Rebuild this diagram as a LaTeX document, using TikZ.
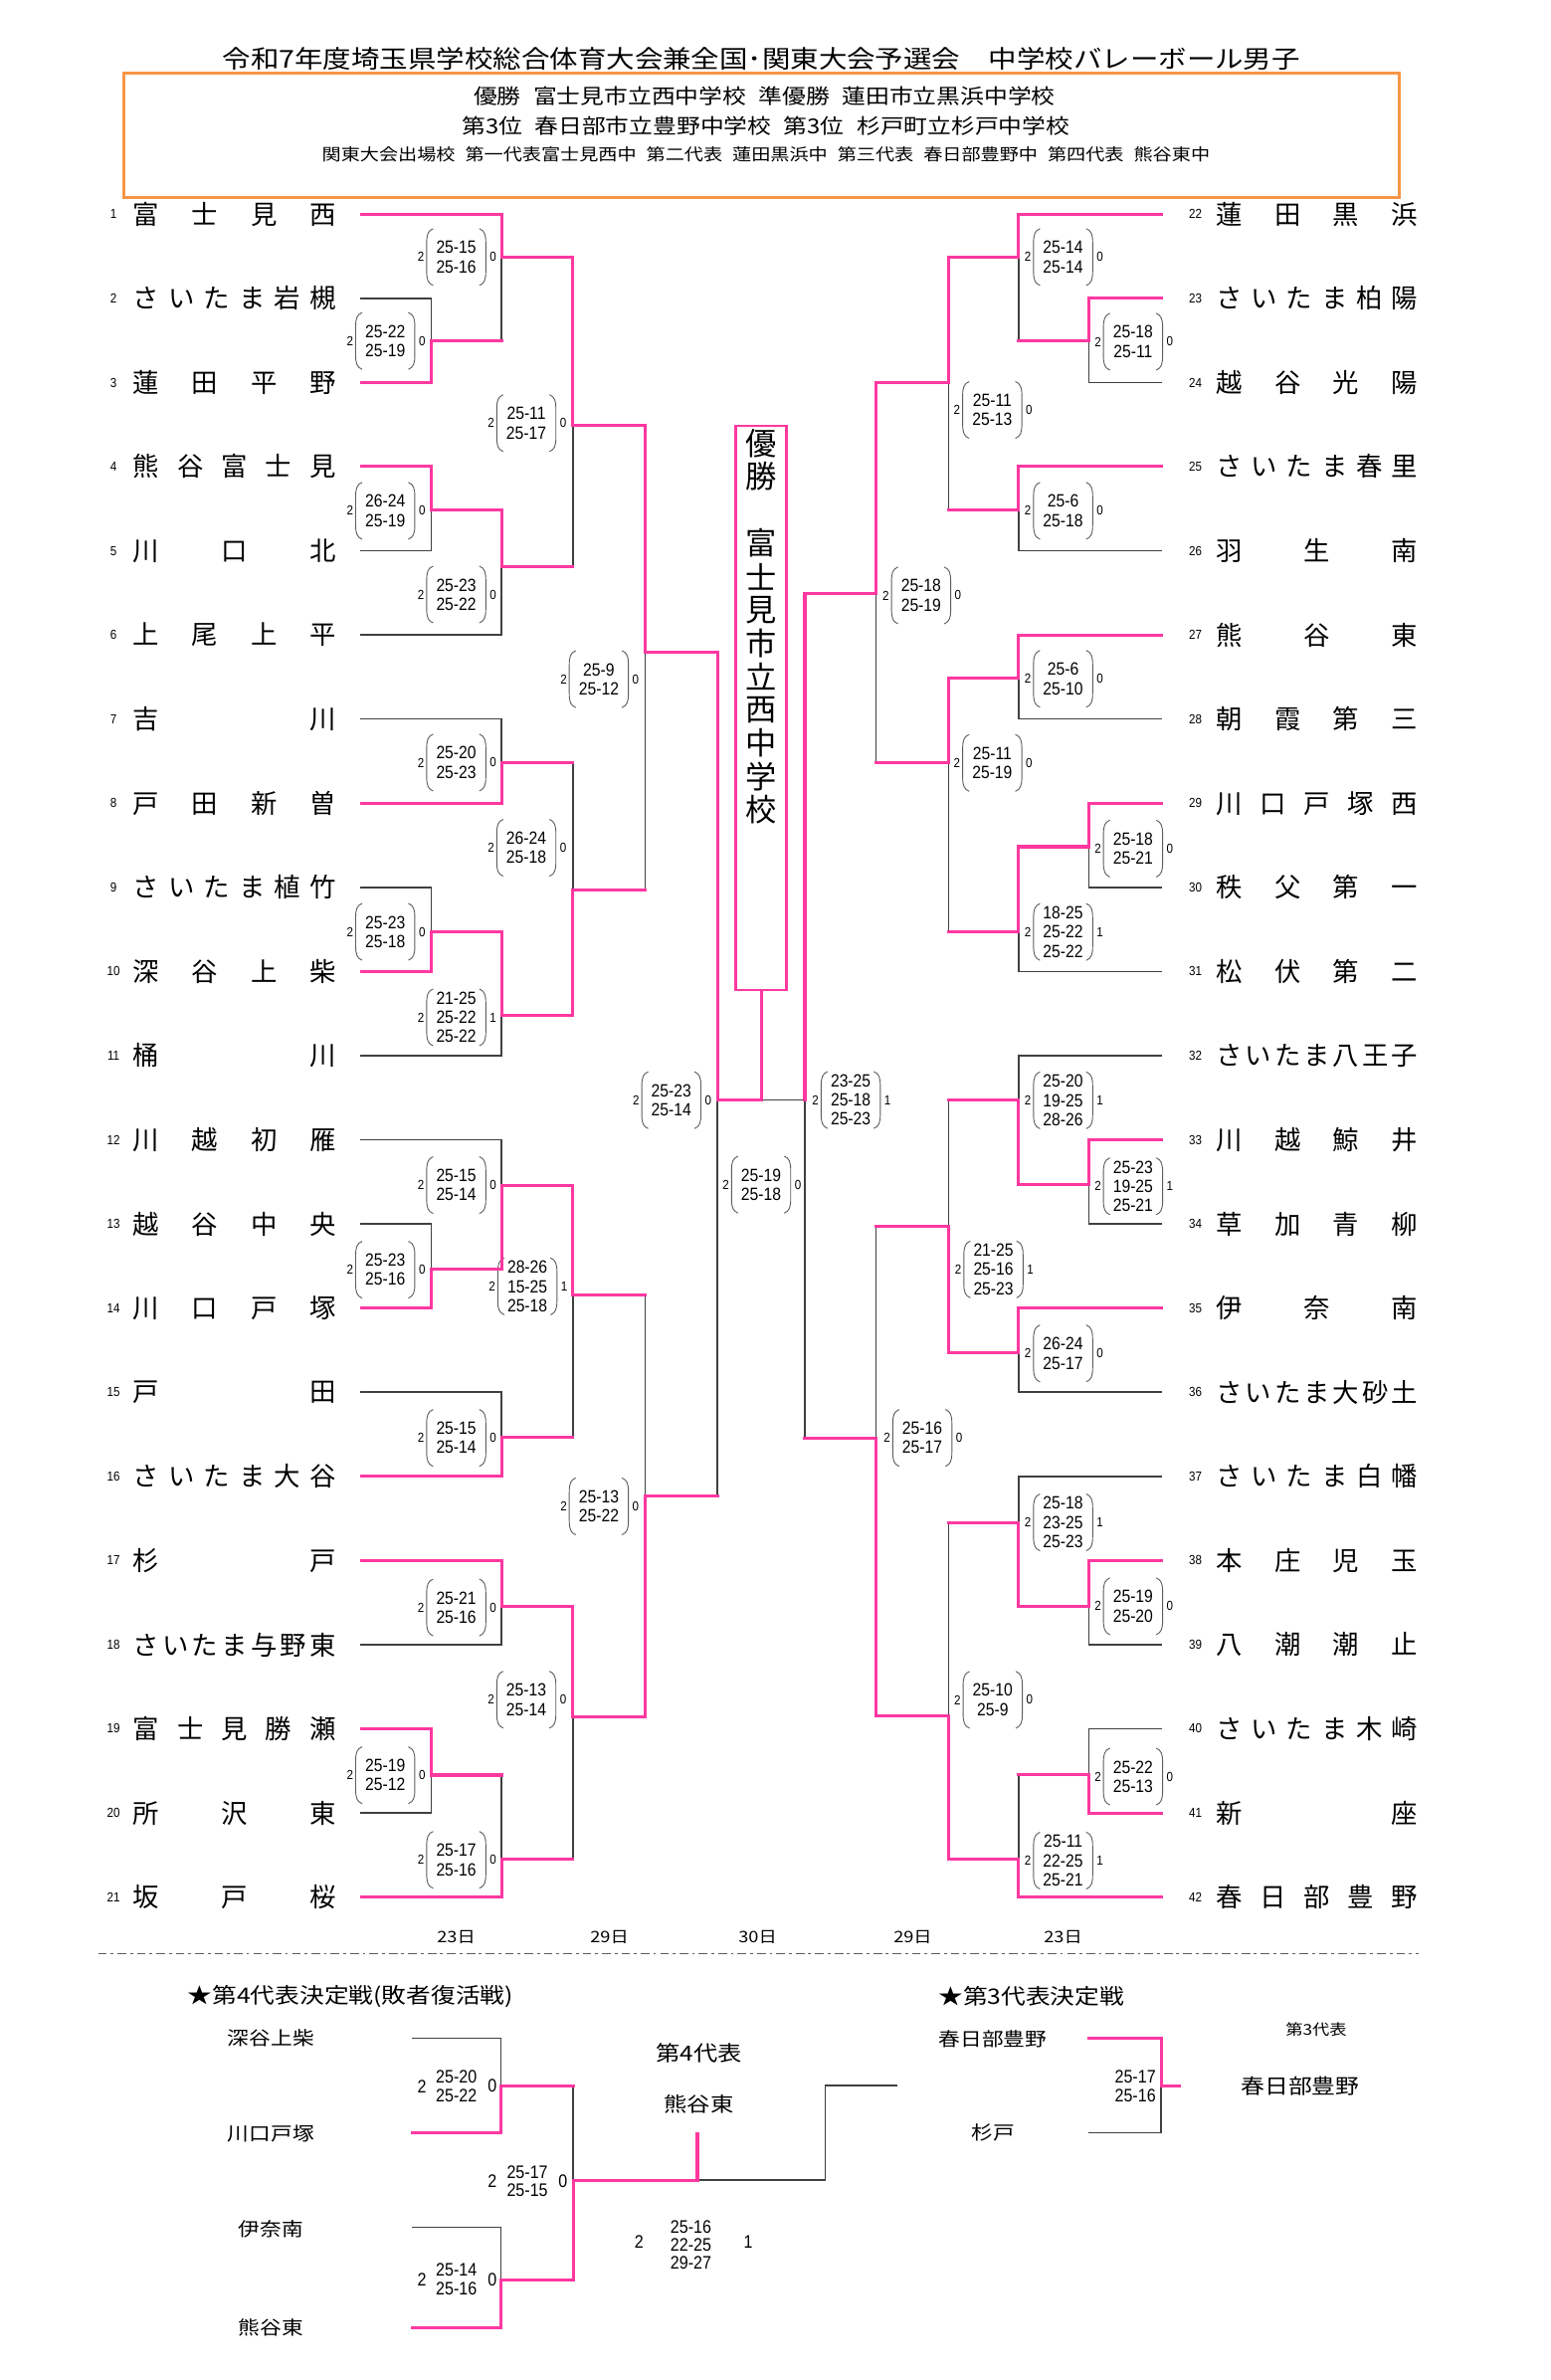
\documentclass[tikz,border=0pt]{standalone}
\usepackage{fontspec}
\setmainfont{Liberation Sans}
\newfontfamily\jpf{Noto Sans CJK JP}
\newfontfamily\jpwf[FakeStretch=1.15]{Noto Sans CJK JP}
\newfontfamily\numf{Liberation Sans}
\newfontfamily\numcf[FakeStretch=0.88]{Liberation Sans}
\usetikzlibrary{calc}
\pgfdeclarelayer{top}
\pgfsetlayers{main,top}
\definecolor{pk}{RGB}{255,56,160}
\definecolor{gl}{RGB}{64,64,64}
\definecolor{orng}{RGB}{247,150,70}
\def\sprA#1#2\relax{#1\if\relax\detokenize{#2}\relax\else\hfill\sprA#2\relax\fi}
\newcommand\hs{\hspace{0.6em}}
\tikzset{
 pline/.style={draw=pk,line width=1.5pt,line cap=rect},
 gline/.style={draw=gl,line width=0.75pt,line cap=rect},
 sbox/.style={inner sep=0pt,minimum width=28.9pt,minimum height=27.75pt,align=center,font=\numcf\fontsize{8.8}{9.5}\selectfont},
 paren/.style={draw=gl!85,line width=0.45pt},
 snum/.style={inner sep=0pt,font=\numcf\fontsize{6.5}{6.5}\selectfont},
 tname/.style={inner sep=0pt,anchor=west,font=\jpf\fontsize{13}{13}\selectfont},
 tnum/.style={inner sep=0pt,font=\numcf\fontsize{6.5}{6.5}\selectfont},
 dlab/.style={inner sep=0pt,font=\jpwf\fontsize{7.8}{7.8}\selectfont},
 bscore/.style={inner sep=0pt,align=center,font=\numcf\fontsize{9}{8.9}\selectfont},
 bnum/.style={inner sep=0pt,font=\numcf\fontsize{9}{9}\selectfont},
 btext/.style={inner sep=0pt,font=\jpwf\fontsize{9.3}{9.3}\selectfont},
 champ/.style={inner sep=0pt,font=\jpf\fontsize{15.4}{15.4}\selectfont},
}
\newcommand\mtch[6]{%
 \coordinate (#1w) at (#2,#3);
 \coordinate (#1l) at (#2,#4);
 \coordinate (#1o) at (#2,#5);
 \coordinate (#1n) at (#6,#5);
 \draw[gline] (#1l) -- (#1o);
 \begin{pgfonlayer}{top}\draw[pline] (#1w) -- (#1o) -- (#1n);\end{pgfonlayer}%
}
\newcommand\sbx[6]{%
 \node[sbox] (#1) at (#2,#3) {#4};
 \draw[paren] ([xshift=3.2pt]#1.north west) .. controls ([xshift=0.6pt,yshift=-1pt]#1.north west) and ([yshift=-3pt]#1.north west) .. ([yshift=-7pt]#1.north west) -- ([yshift=7pt]#1.south west) .. controls ([yshift=3pt]#1.south west) and ([xshift=0.6pt,yshift=1pt]#1.south west) .. ([xshift=3.2pt]#1.south west);
 \draw[paren] ([xshift=-3.2pt]#1.north east) .. controls ([xshift=-0.6pt,yshift=-1pt]#1.north east) and ([yshift=-3pt]#1.north east) .. ([yshift=-7pt]#1.north east) -- ([yshift=7pt]#1.south east) .. controls ([yshift=3pt]#1.south east) and ([xshift=-0.6pt,yshift=1pt]#1.south east) .. ([xshift=-3.2pt]#1.south east);
 \node[snum] (#1x) at ([xshift=-2.8pt]#1.west) {#5};
 \node[snum] (#1y) at ([xshift=3.6pt]#1.east) {#6};
}
\newcommand\tnL[3]{\node[tnum] (n#1) at (75,#2) {#1};\node[tname] (tn#1) at (87.7,#2) {\hbox to 100.4pt{\sprA#3\relax}};}
\newcommand\tnR[3]{\node[tnum] (n#1) at (789.7,#2) {#1};\node[tname] (tn#1) at (803,#2) {\hbox to 100pt{\sprA#3\relax}};}
\newcommand\tlg[4]{\coordinate (#1a) at (#2,#4);\coordinate (#1b) at (#3,#4);\draw[gline] (#1a) -- (#1b);}
\newcommand\tlp[4]{\coordinate (#1a) at (#2,#4);\coordinate (#1b) at (#3,#4);\begin{pgfonlayer}{top}\draw[pline] (#1a) -- (#1b);\end{pgfonlayer}}
\begin{document}
\begin{tikzpicture}[x=0.75pt,y=-0.75pt]
\fill[white] (0,0) rectangle (1024,1572.1);
\useasboundingbox (0,0) rectangle (1024,1572.1);
% header
\node[inner sep=0pt,font=\jpwf\fontsize{12.2}{12.2}\selectfont] (title) at (503,38.5) {令和7年度埼玉県学校総合体育大会兼全国･関東大会予選会　中学校バレーボール男子};
\node[draw=orng,line width=1.3pt,minimum width=632.1pt,minimum height=61.6pt,inner sep=0pt] (hbox) at (503.1,89.25) {};
\node[inner sep=0pt,font=\jpwf\fontsize{10.2}{10.2}\selectfont] (h1) at (505,63.8) {優勝\hs 富士見市立西中学校\hs 準優勝\hs 蓮田市立黒浜中学校};
\node[inner sep=0pt,font=\jpwf\fontsize{10.2}{10.2}\selectfont] (h2) at (506,83.0) {第3位\hs 春日部市立豊野中学校\hs 第3位\hs 杉戸町立杉戸中学校};
\node[inner sep=0pt,font=\jpwf\fontsize{8.2}{8.2}\selectfont] (h3) at (506,102.2) {関東大会出場校\hs 第一代表富士見西中\hs 第二代表\hs 蓮田黒浜中\hs 第三代表\hs 春日部豊野中\hs 第四代表\hs 熊谷東中};
% team names
\tnL{1}{141.5}{富士見西}
\tnL{2}{197.1}{さいたま岩槻}
\tnL{3}{252.7}{蓮田平野}
\tnL{4}{308.2}{熊谷富士見}
\tnL{5}{363.8}{川口北}
\tnL{6}{419.4}{上尾上平}
\tnL{7}{475.0}{吉川}
\tnL{8}{530.6}{戸田新曽}
\tnL{9}{586.1}{さいたま植竹}
\tnL{10}{641.7}{深谷上柴}
\tnL{11}{697.3}{桶川}
\tnL{12}{752.9}{川越初雁}
\tnL{13}{808.5}{越谷中央}
\tnL{14}{864.0}{川口戸塚}
\tnL{15}{919.6}{戸田}
\tnL{16}{975.2}{さいたま大谷}
\tnL{17}{1030.8}{杉戸}
\tnL{18}{1086.4}{さいたま与野東}
\tnL{19}{1141.9}{富士見勝瀬}
\tnL{20}{1197.5}{所沢東}
\tnL{21}{1253.1}{坂戸桜}
\tnR{22}{141.5}{蓮田黒浜}
\tnR{23}{197.1}{さいたま柏陽}
\tnR{24}{252.7}{越谷光陽}
\tnR{25}{308.2}{さいたま春里}
\tnR{26}{363.8}{羽生南}
\tnR{27}{419.4}{熊谷東}
\tnR{28}{475.0}{朝霞第三}
\tnR{29}{530.6}{川口戸塚西}
\tnR{30}{586.1}{秩父第一}
\tnR{31}{641.7}{松伏第二}
\tnR{32}{697.3}{さいたま八王子}
\tnR{33}{752.9}{川越鯨井}
\tnR{34}{808.5}{草加青柳}
\tnR{35}{864.0}{伊奈南}
\tnR{36}{919.6}{さいたま大砂土}
\tnR{37}{975.2}{さいたま白幡}
\tnR{38}{1030.8}{本庄児玉}
\tnR{39}{1086.4}{八潮潮止}
\tnR{40}{1141.9}{さいたま木崎}
\tnR{41}{1197.5}{新座}
\tnR{42}{1253.1}{春日部豊野}
% team lines
\tlp{L1}{238.7}{331.4}{141.5}
\tlg{L2}{238.7}{284.9}{197.1}
\tlp{L3}{238.7}{284.9}{252.7}
\tlp{L4}{238.7}{284.9}{308.2}
\tlg{L5}{238.7}{284.9}{363.8}
\tlg{L6}{238.7}{331.4}{419.4}
\tlg{L7}{238.7}{331.4}{475.0}
\tlp{L8}{238.7}{331.4}{530.6}
\tlg{L9}{238.7}{284.9}{586.1}
\tlp{L10}{238.7}{284.9}{641.7}
\tlg{L11}{238.7}{331.4}{697.3}
\tlg{L12}{238.7}{331.4}{752.9}
\tlg{L13}{238.7}{284.9}{808.5}
\tlp{L14}{238.7}{284.9}{864.0}
\tlg{L15}{238.7}{331.4}{919.6}
\tlp{L16}{238.7}{331.4}{975.2}
\tlp{L17}{238.7}{331.4}{1030.8}
\tlg{L18}{238.7}{331.4}{1086.4}
\tlp{L19}{238.7}{284.9}{1141.9}
\tlg{L20}{238.7}{284.9}{1197.5}
\tlp{L21}{238.7}{331.4}{1253.1}
\tlp{R22}{672.9}{767}{141.5}
\tlp{R23}{719.2}{767}{197.1}
\tlg{R24}{719.2}{767}{252.7}
\tlp{R25}{672.9}{767}{308.2}
\tlg{R26}{672.9}{767}{363.8}
\tlp{R27}{672.9}{767}{419.4}
\tlg{R28}{672.9}{767}{475.0}
\tlp{R29}{719.2}{767}{530.6}
\tlg{R30}{719.2}{767}{586.1}
\tlg{R31}{672.9}{767}{641.7}
\tlg{R32}{672.9}{767}{697.3}
\tlp{R33}{719.2}{767}{752.9}
\tlg{R34}{719.2}{767}{808.5}
\tlp{R35}{672.9}{767}{864.0}
\tlg{R36}{672.9}{767}{919.6}
\tlg{R37}{672.9}{767}{975.2}
\tlp{R38}{719.2}{767}{1030.8}
\tlg{R39}{719.2}{767}{1086.4}
\tlg{R40}{719.2}{767}{1141.9}
\tlp{R41}{719.2}{767}{1197.5}
\tlp{R42}{672.9}{767}{1253.1}
% left matches
\mtch{m1}{284.9}{252.7}{197.1}{225.2}{331.4}
\mtch{m2}{331.4}{141.5}{225.2}{169.8}{378.4}
\mtch{m3}{284.9}{308.2}{363.8}{337.0}{331.4}
\mtch{m4}{331.4}{337.0}{419.4}{374.6}{378.4}
\mtch{m5}{378.4}{169.8}{374.6}{281.1}{426.3}
\mtch{m6}{331.4}{530.6}{475.0}{503.7}{378.4}
\mtch{m7}{284.9}{641.7}{586.1}{615.2}{331.4}
\mtch{m8}{331.4}{615.2}{697.3}{670.4}{378.4}
\mtch{m9}{378.4}{670.4}{503.7}{587.6}{426.3}
\mtch{m10}{426.3}{281.1}{587.6}{431.0}{474.0}
\mtch{m11}{284.9}{864.0}{808.5}{838.5}{331.4}
\mtch{m12}{331.4}{838.5}{752.9}{782.8}{378.4}
\mtch{m13}{331.4}{975.2}{919.6}{949.5}{378.4}
\mtch{m14}{378.4}{782.8}{949.5}{855.6}{426.3}
\mtch{m15}{331.4}{1030.8}{1086.4}{1060.8}{378.4}
\mtch{m16}{284.9}{1141.9}{1197.5}{1172.5}{331.4}
\mtch{m17}{331.4}{1253.1}{1172.5}{1228.0}{378.4}
\mtch{m18}{378.4}{1060.8}{1228.0}{1133.8}{426.3}
\mtch{m19}{426.3}{1133.8}{855.6}{988.2}{474.0}
\mtch{m20}{474.0}{431.0}{988.2}{726.5}{502.8}
% right matches
\mtch{r1}{719.2}{197.1}{252.7}{225.4}{672.9}
\mtch{r2}{672.9}{141.5}{225.4}{170.0}{626.6}
\mtch{r3}{672.9}{308.2}{363.8}{336.8}{626.6}
\mtch{r4}{626.6}{170.0}{336.8}{253.0}{578.6}
\mtch{r5}{672.9}{419.4}{475.0}{448.1}{626.6}
\mtch{r6}{719.2}{530.6}{586.1}{559.3}{672.9}
\mtch{r7}{672.9}{559.3}{641.7}{615.6}{626.6}
\mtch{r8}{626.6}{448.1}{615.6}{503.9}{578.6}
\mtch{r9}{578.6}{253.0}{503.9}{392.3}{531.7}
\mtch{r10}{719.2}{752.9}{808.5}{782.5}{672.9}
\mtch{r11}{672.9}{782.5}{697.3}{726.5}{626.6}
\mtch{r12}{672.9}{864.0}{919.6}{893.7}{626.6}
\mtch{r13}{626.6}{893.7}{726.5}{810.0}{578.6}
\mtch{r14}{719.2}{1030.8}{1086.4}{1060.9}{672.9}
\mtch{r15}{672.9}{1060.9}{975.2}{1005.6}{626.6}
\mtch{r16}{719.2}{1197.5}{1141.9}{1172.3}{672.9}
\mtch{r17}{672.9}{1253.1}{1172.3}{1228.2}{626.6}
\mtch{r18}{626.6}{1228.2}{1005.6}{1133.4}{578.6}
\mtch{r19}{578.6}{1133.4}{810.0}{949.8}{531.7}
% right semifinal and final
\coordinate (sfro) at (531.7,726.5);
\draw[gline] (r19n) -- (sfro) -- (m20n);
\begin{pgfonlayer}{top}\draw[pline] (r9n) -- (sfro);\end{pgfonlayer}
\node[draw=pk,line width=1.3pt,minimum width=25.35pt,minimum height=279.45pt,inner sep=0pt] (cbox) at (502.8,467.6) {};
\begin{pgfonlayer}{top}\draw[pline] (m20n) -- (cbox.south);\end{pgfonlayer}
\node[champ] (c0) at (502.8,292.9) {優};
\node[champ] (c1) at (502.8,314.9) {勝};
\node[champ] (c3) at (502.8,358.9) {富};
\node[champ] (c4) at (502.8,380.9) {士};
\node[champ] (c5) at (502.8,402.9) {見};
\node[champ] (c6) at (502.8,424.9) {市};
\node[champ] (c7) at (502.8,446.9) {立};
\node[champ] (c8) at (502.8,468.9) {西};
\node[champ] (c9) at (502.8,490.9) {中};
\node[champ] (c10) at (502.8,512.9) {学};
\node[champ] (c11) at (502.8,534.9) {校};
% scores left
\sbx{s1}{254.5}{225.2}{25-22\\25-19}{2}{0}
\sbx{s2}{301.4}{169.8}{25-15\\25-16}{2}{0}
\sbx{s3}{254.5}{337.4}{26-24\\25-19}{2}{0}
\sbx{s4}{301.4}{392.7}{25-23\\25-22}{2}{0}
\sbx{s5}{347.7}{279.5}{25-11\\25-17}{2}{0}
\sbx{s6}{301.4}{503.7}{25-20\\25-23}{2}{0}
\sbx{s7}{254.5}{615.5}{25-23\\25-18}{2}{0}
\sbx{s8}{301.4}{672.0}{21-25\\25-22\\25-22}{2}{1}
\sbx{s9}{347.7}{560.0}{26-24\\25-18}{2}{0}
\sbx{s10}{395.6}{448.6}{25-9\\25-12}{2}{0}
\sbx{s11}{254.5}{838.7}{25-23\\25-16}{2}{0}
\sbx{s12}{301.4}{782.8}{25-15\\25-14}{2}{0}
\sbx{s13}{301.4}{949.8}{25-15\\25-14}{2}{0}
\sbx{s14}{348.4}{849.7}{28-26\\15-25\\25-18}{2}{1}
\sbx{s15}{301.4}{1061.8}{25-21\\25-16}{2}{0}
\sbx{s16}{254.5}{1172.6}{25-19\\25-12}{2}{0}
\sbx{s17}{301.4}{1228.5}{25-17\\25-16}{2}{0}
\sbx{s18}{347.7}{1122.7}{25-13\\25-14}{2}{0}
\sbx{s19}{395.6}{995.0}{25-13\\25-22}{2}{0}
\sbx{s20}{443.5}{726.7}{25-23\\25-14}{2}{0}
\sbx{s21}{502.8}{782.5}{25-19\\25-18}{2}{0}
% scores right
\sbx{t1}{748.5}{225.7}{25-18\\25-11}{2}{0}
\sbx{t2}{702.3}{169.8}{25-14\\25-14}{2}{0}
\sbx{t3}{702.3}{337.4}{25-6\\25-18}{2}{0}
\sbx{t4}{655.5}{270.8}{25-11\\25-13}{2}{0}
\sbx{t5}{702.3}{448.4}{25-6\\25-10}{2}{0}
\sbx{t6}{748.5}{560.5}{25-18\\25-21}{2}{0}
\sbx{t7}{702.3}{615.6}{18-25\\25-22\\25-22}{2}{1}
\sbx{t8}{655.5}{503.9}{25-11\\25-19}{2}{0}
\sbx{t9}{608.5}{393.3}{25-18\\25-19}{2}{0}
\sbx{t10}{748.5}{783.6}{25-23\\19-25\\25-21}{2}{1}
\sbx{t11}{702.3}{726.8}{25-20\\19-25\\28-26}{2}{1}
\sbx{t12}{702.3}{894.0}{26-24\\25-17}{2}{0}
\sbx{t13}{656.3}{838.5}{21-25\\25-16\\25-23}{2}{1}
\sbx{t14}{748.5}{1061.0}{25-19\\25-20}{2}{0}
\sbx{t15}{702.3}{1005.6}{25-18\\23-25\\25-23}{2}{1}
\sbx{t16}{748.5}{1173.5}{25-22\\25-13}{2}{0}
\sbx{t17}{702.3}{1229.0}{25-11\\22-25\\25-21}{2}{1}
\sbx{t18}{655.8}{1122.8}{25-10\\25-9}{2}{0}
\sbx{t19}{609.3}{949.8}{25-16\\25-17}{2}{0}
\sbx{t20}{562.0}{726.6}{23-25\\25-18\\25-23}{2}{1}
% dates
\node[dlab] (d1) at (301.4,1279.4) {23日};
\node[dlab] (d2) at (402.6,1279.4) {29日};
\node[dlab] (d3) at (500.5,1279.4) {30日};
\node[dlab] (d4) at (603.0,1279.4) {29日};
\node[dlab] (d5) at (702.3,1279.4) {23日};
\coordinate (dl1) at (64.9,1290.5);
\coordinate (dl2) at (937,1290.5);
\draw[gl!85,line width=0.8pt,dash pattern=on 4.3pt off 1.9pt on 1.4pt off 2pt] (dl1) -- (dl2);
% 4th place section
\node[inner sep=0pt,anchor=west,font=\jpwf\fontsize{10.6}{10.6}\selectfont] (bh1) at (123.8,1318.9) {★第4代表決定戦(敗者復活戦)};
\node[btext] (b1n) at (179,1346.3) {深谷上柴};
\node[btext] (b2n) at (179,1409.3) {川口戸塚};
\node[btext] (b3n) at (179,1472.5) {伊奈南};
\node[btext] (b4n) at (179,1537.5) {熊谷東};
\tlg{q1}{272.3}{331}{1346.3}
\tlp{q2}{272.3}{331}{1408.7}
\tlg{q3}{272.3}{331}{1471.1}
\tlp{q4}{272.3}{331}{1537.5}
\mtch{qa}{331}{1408.7}{1346.3}{1377.6}{378.6}
\mtch{qb}{331}{1537.5}{1471.1}{1505.8}{378.6}
\mtch{qc}{378.6}{1505.8}{1377.6}{1440}{460.7}
\coordinate (qe1) at (545.2,1440);
\coordinate (qe2) at (545.2,1377.6);
\coordinate (qe3) at (592.2,1377.6);
\coordinate (qst) at (460.7,1409.3);
\draw[gline] (qcn) -- (qe1) -- (qe2) -- (qe3);
\begin{pgfonlayer}{top}\draw[pline] (qcn) -- (qst);\end{pgfonlayer}
\node[inner sep=0pt,font=\jpwf\fontsize{10.4}{10.4}\selectfont] (f4a) at (461.8,1356.1) {第4代表};
\node[inner sep=0pt,font=\jpwf\fontsize{10}{10}\selectfont] (f4b) at (461.8,1390) {熊谷東};
\node[bscore] (bs1) at (301.5,1378) {25-20\\25-22};
\node[bnum] (bs1x) at (278.7,1378) {2};
\node[bnum] (bs1y) at (325.3,1378) {0};
\node[bscore] (bs2) at (301.5,1505.5) {25-14\\25-16};
\node[bnum] (bs2x) at (278.7,1506) {2};
\node[bnum] (bs2y) at (325.3,1506) {0};
\node[bscore] (bs3) at (348.4,1440.7) {25-17\\25-15};
\node[bnum] (bs3x) at (325.3,1440.5) {2};
\node[bnum] (bs3y) at (371.9,1440.5) {0};
\node[bscore] (bs4) at (456.4,1482.6) {25-16\\22-25\\29-27};
\node[bnum] (bs4x) at (422.2,1481) {2};
\node[bnum] (bs4y) at (494.3,1481) {1};
% 3rd place section
\node[inner sep=0pt,anchor=west,font=\jpwf\fontsize{10.6}{10.6}\selectfont] (bh2) at (619.7,1318.9) {★第3代表決定戦};
\node[btext] (b5n) at (656,1346.9) {春日部豊野};
\node[btext] (b6n) at (656,1408.7) {杉戸};
\tlp{q5}{719.4}{767}{1346.3}
\tlg{q6}{719.4}{767}{1408.7}
\mtch{qd}{767}{1346.3}{1408.7}{1377.6}{779.3}
\node[bscore] (bs5) at (750,1378) {25-17\\25-16};
\node[inner sep=0pt,font=\jpwf\fontsize{7.4}{7.4}\selectfont] (f3a) at (869.5,1340.3) {第3代表};
\node[inner sep=0pt,font=\jpwf\fontsize{10.2}{10.2}\selectfont] (f3b) at (859,1378) {春日部豊野};
\end{tikzpicture}
\end{document}
